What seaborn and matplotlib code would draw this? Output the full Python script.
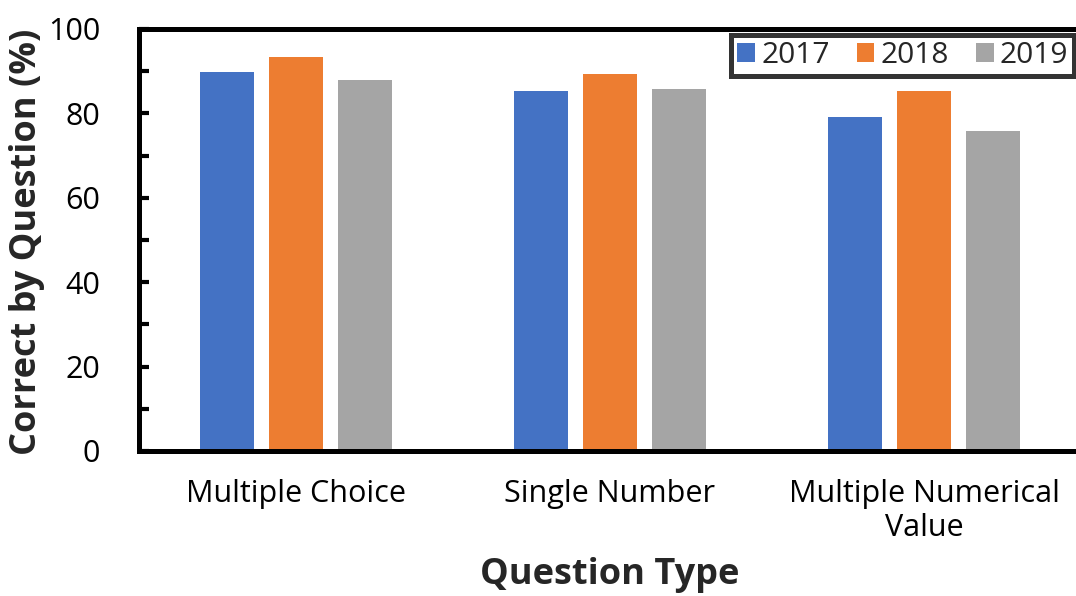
import matplotlib
matplotlib.use("Agg")
import matplotlib.pyplot as plt
from matplotlib.ticker import MultipleLocator
import seaborn as sns
import pandas as pd

categories = ["Multiple Choice", "Single Number", "Multiple Numerical\nValue"]
years = ["2017", "2018", "2019"]
values_2017 = [89.8, 85.4, 79.1]
values_2018 = [93.4, 89.4, 85.2]
values_2019 = [87.9, 85.9, 75.8]
colors = ["#4472C4", "#ED7D31", "#A5A5A5"]

df = pd.DataFrame({
    "Question Type": categories * 3,
    "Year": [y for y in years for _ in categories],
    "Correct": values_2017 + values_2018 + values_2019,
})

sns.set_theme(style="white")
plt.rcParams["font.family"] = ["Open Sans", "DejaVu Sans"]

fig = plt.figure(figsize=(10.76, 5.96), dpi=100)
ax = fig.add_axes([139 / 1076, 1 - 451 / 596, (1081 - 139) / 1076, (451 - 29) / 596])

sns.barplot(data=df, x="Question Type", y="Correct", hue="Year",
            palette=colors, width=0.66, gap=0.22, ax=ax, saturation=1,
            linewidth=0)

ax.set_ylim(0, 100)
ax.set_xlim(-0.5, 2.5)
ax.yaxis.set_major_locator(MultipleLocator(20))
ax.yaxis.set_minor_locator(MultipleLocator(10))
ax.tick_params(axis="y", which="both", direction="in", length=7, width=3,
               left=True, labelsize=22, pad=28, colors="black")
ax.tick_params(axis="y", which="minor", labelleft=False)
ax.tick_params(axis="x", bottom=False, labelsize=22, pad=14, colors="black")
for lbl in ax.get_xticklabels():
    lbl.set_linespacing(1.2)

for side in ["left", "top", "bottom", "right"]:
    ax.spines[side].set_visible(True)
    ax.spines[side].set_linewidth(3.6)
    ax.spines[side].set_color("black")

ax.set_ylabel("Correct by Question (%)", fontsize=26, fontweight="bold")
ax.yaxis.set_label_coords(-0.1, 0.495)
ax.set_xlabel("Question Type", fontsize=26, fontweight="bold", labelpad=10)

handles, labels = ax.get_legend_handles_labels()
if ax.legend_:
    ax.legend_.remove()
leg = fig.legend(handles, labels, loc="upper right",
                 bbox_to_anchor=(1074 / 1076, 1 - 35 / 596),
                 ncol=3, fontsize=21.5, frameon=True, fancybox=False,
                 handlelength=0.6, handleheight=0.6, handletextpad=0.2,
                 columnspacing=0.9, borderpad=0.2, borderaxespad=0)
leg.get_frame().set_edgecolor("black")
leg.get_frame().set_linewidth(3.6)

fig.savefig("out.png", dpi=100)
